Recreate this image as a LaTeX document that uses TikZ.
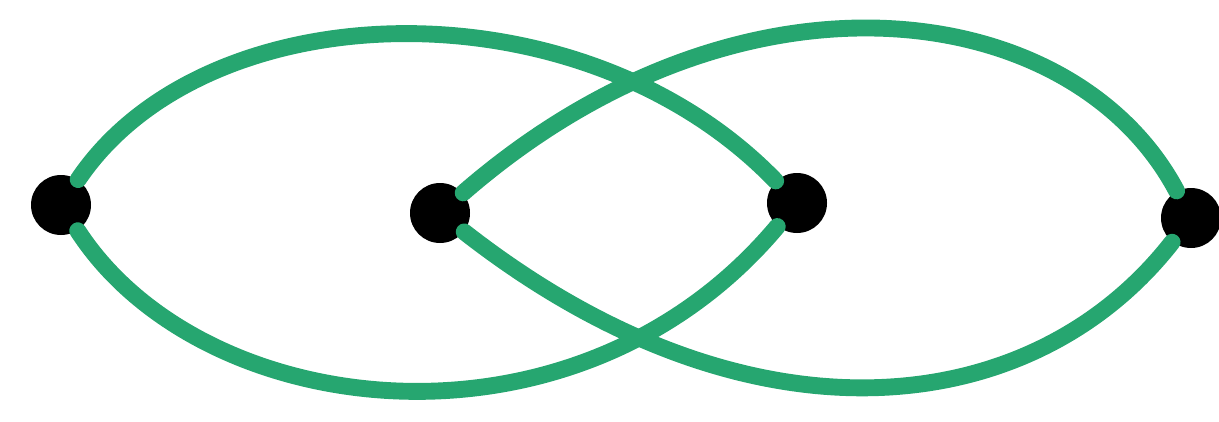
\documentclass[tikz,border=0pt]{standalone}
\usepackage{xcolor}
\usepackage{tikz}
\definecolor{strandgreen}{RGB}{38,166,112}

\begin{document}
\begin{tikzpicture}[line join=round,
  dot/.style={circle,fill=black,inner sep=0pt,minimum size=0.6cm},
  strand/.style={line width=4.8pt,strandgreen,line cap=round}]
  \useasboundingbox (0,0) rectangle (12.19,4.21);
  \node[dot] (D1) at (0.61,2.16) {};
  \node[dot] (D2) at (4.40,2.08) {};
  \node[dot] (D3) at (7.97,2.18) {};
  \node[dot] (D4) at (11.91,2.03) {};
  \draw[strand] (D1) .. controls +(56:2.6) and +(134:3.1) .. (D3);
  \draw[strand] (D1) .. controls +(-57:2.6) and +(-130:3.45) .. (D3);
  \draw[strand] (D2) .. controls +(41:4.0) and +(118:2.5) .. (D4);
  \draw[strand] (D2) .. controls +(-38:3.9) and +(-128:2.6) .. (D4);
\end{tikzpicture}
\end{document}
